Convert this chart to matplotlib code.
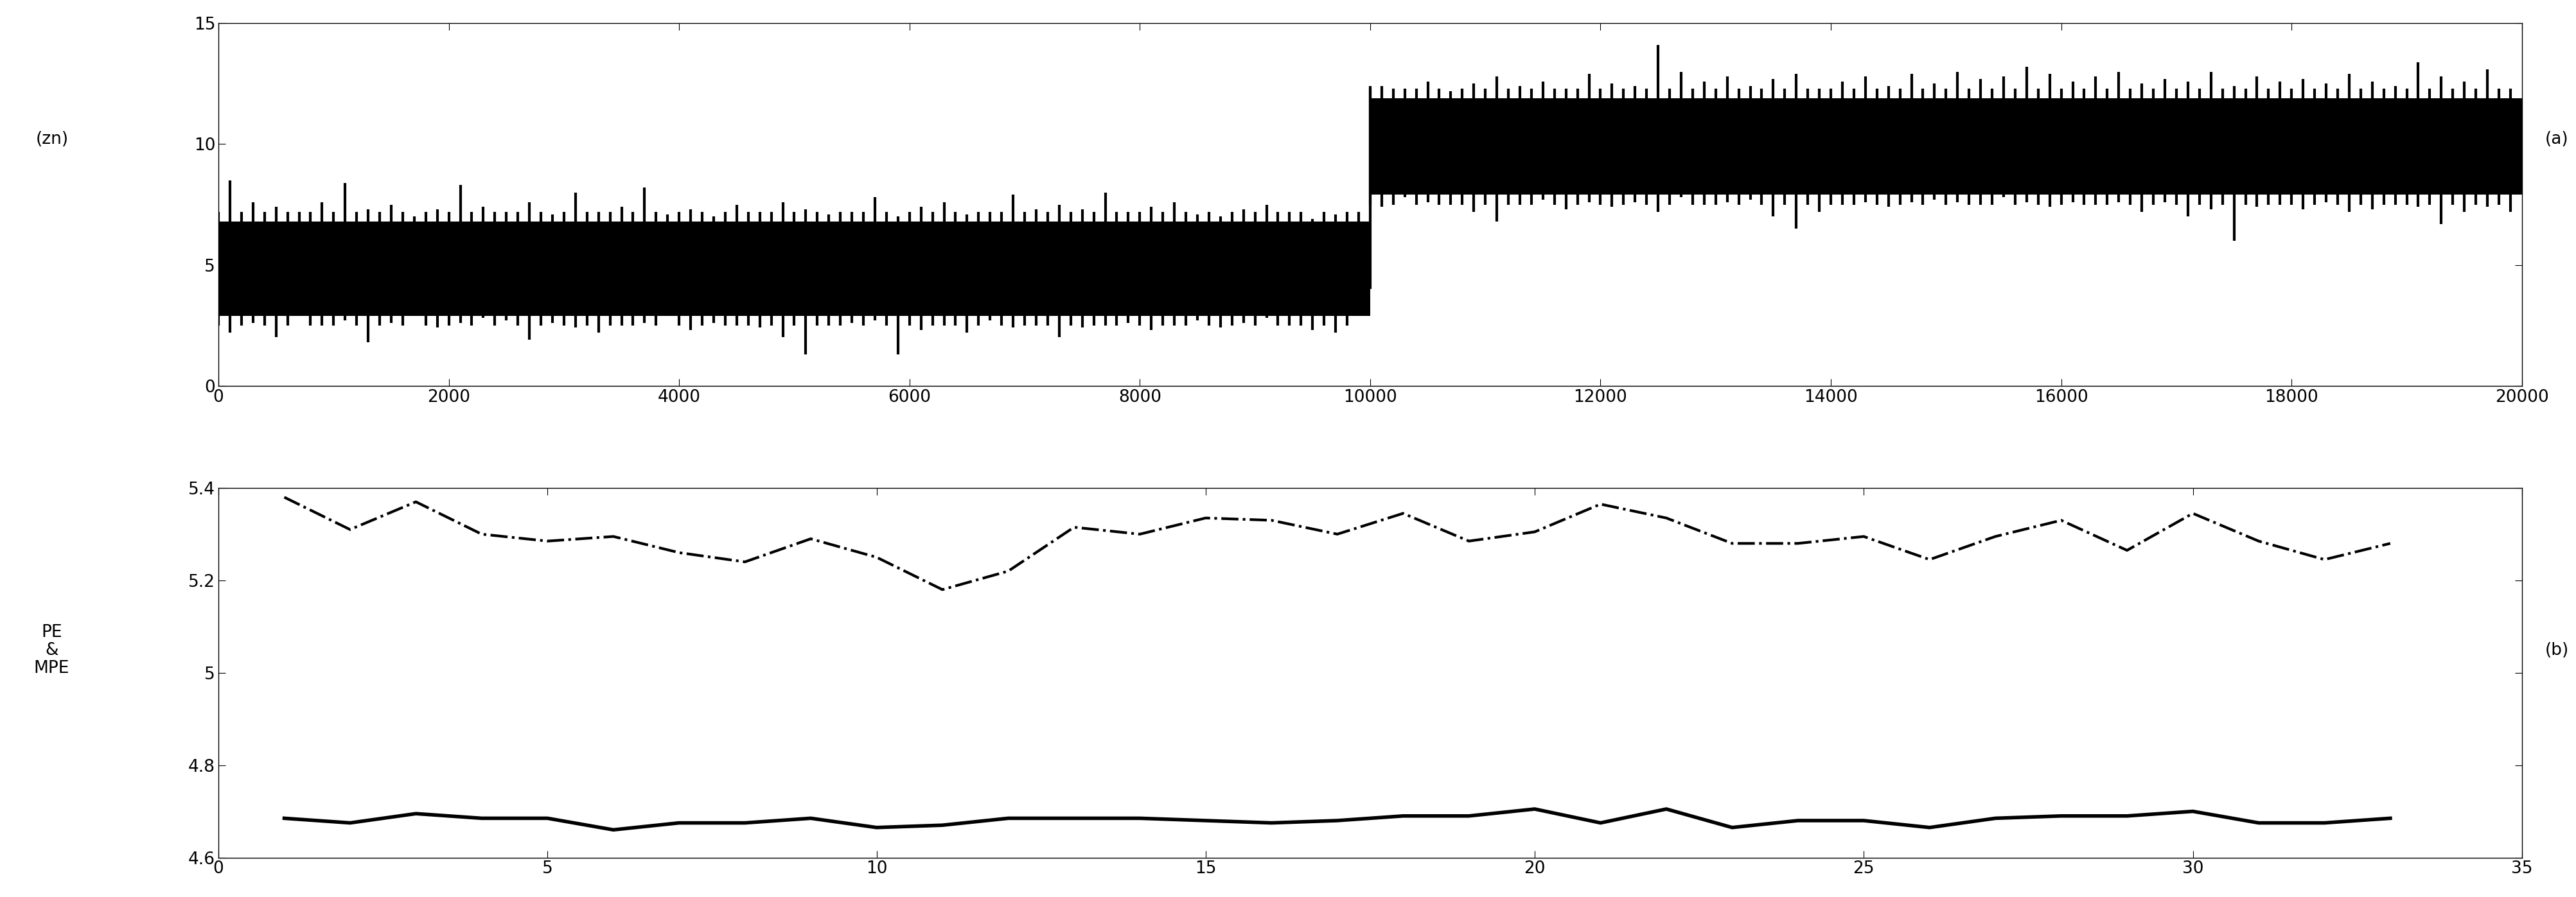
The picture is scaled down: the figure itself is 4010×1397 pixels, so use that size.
import numpy as np
import matplotlib
matplotlib.use("Agg")
import matplotlib.pyplot as plt

# Top panel envelope (per 200-sample bin)
hi_a = [8.5,7.6,7.4,7.2,7.6,8.4,7.3,7.5,7.0,7.3, 8.3,7.4,7.2,7.6,7.1,8.0,7.2,7.4,8.2,7.1,
        7.3,7.0,7.5,7.2,7.6,7.3,7.1,7.2,7.8,7.0, 7.4,7.6,7.1,7.2,7.9,7.3,7.5,7.3,8.0,7.2,
        7.4,7.6,7.1,7.0,7.3,7.5,7.2,6.9,7.1,7.2]
lo_a = [2.2,2.6,2.0,2.9,2.5,2.7,1.8,2.6,2.9,2.4, 2.6,2.8,2.7,1.9,2.6,2.4,2.2,2.5,2.6,2.9,
        2.3,2.6,2.5,2.4,2.0,1.3,2.5,2.6,2.7,1.3, 2.3,2.5,2.2,2.7,2.4,2.5,2.0,2.4,2.5,2.6,
        2.3,2.5,2.7,2.4,2.6,2.8,2.5,2.3,2.2,3.9]
hi_b = [12.4,12.3,12.6,12.2,12.5,12.8,12.4,12.6,12.3,12.9, 12.5,12.4,14.1,13.0,12.6,12.8,12.4,12.7,12.9,12.3,
        12.6,12.8,12.4,12.9,12.5,13.0,12.7,12.8,13.2,12.9, 12.6,12.8,13.0,12.5,12.7,12.6,13.0,12.4,12.8,12.6,
        12.7,12.5,12.9,12.6,12.4,13.4,12.8,12.6,13.1,12.3]
lo_b = [7.4,7.8,7.6,7.5,7.2,6.8,7.5,7.7,7.3,7.6, 7.4,7.6,7.2,7.8,7.5,7.6,7.7,7.0,6.5,7.2,
        7.5,7.6,7.4,7.6,7.7,7.6,7.5,7.8,7.6,7.4, 7.6,7.5,7.6,7.2,7.6,7.0,7.3,6.0,7.4,7.5,
        7.3,7.6,7.2,7.3,7.5,7.4,6.7,7.2,7.4,7.2]
bin_width = 200

# Bottom panel
k = list(range(1, 34))
mpe = [5.38,5.31,5.37,5.30,5.285,5.295,5.26,5.24,5.29,5.25,5.18,5.22,5.315,5.30,5.335,5.33,5.30,
       5.345,5.285,5.305,5.365,5.335,5.28,5.28,5.295,5.245,5.295,5.33,5.265,5.345,5.285,5.245,5.28]
pe = [4.685,4.675,4.695,4.685,4.685,4.66,4.675,4.675,4.685,4.665,4.67,4.685,4.685,4.685,4.68,4.675,
      4.68,4.69,4.69,4.705,4.675,4.705,4.665,4.68,4.68,4.665,4.685,4.69,4.69,4.70,4.675,4.675,4.685]

fs = 19
fig = plt.figure(figsize=(40.1, 13.97), dpi=100)
ax1 = fig.add_axes([0.0848, 0.570, 0.8942, 0.404])
ax2 = fig.add_axes([0.0848, 0.044, 0.8942, 0.412])

hi = np.array(hi_a + hi_b); lo = np.array(lo_a + lo_b)
xs = np.arange(len(hi)) * bin_width + bin_width / 2
# dense core band (typical range of the noise)
edges = np.arange(len(hi) + 1) * bin_width
core_hi = np.append(np.where(xs < 10000, 6.8, 11.9), 11.9)
core_lo = np.append(np.where(xs < 10000, 2.9, 7.9), 7.9)
ax1.fill_between(edges, core_lo, core_hi, color='black', step='post', lw=0)
# spikes: vertical strokes spanning each bin's extremes
ax1.vlines(xs, lo, hi, color='black', lw=3)
ax1.vlines(xs - bin_width/2, np.roll(lo, -1) * 0 + core_lo[:-1] - 0.4, core_hi[:-1] + 0.4, color='black', lw=3)
ax1.vlines([10000], 4.0, 12.4, color='black', lw=3)
ax1.set_xlim(0, 20000); ax1.set_ylim(0, 15)
ax1.set_xticks(range(0, 20001, 2000)); ax1.set_yticks([0, 5, 10, 15])

ax2.plot(k, mpe, color='black', lw=3, ls='-.')
ax2.plot(k, pe, color='black', lw=4)
ax2.set_xlim(0, 35); ax2.set_ylim(4.6, 5.4)
ax2.set_xticks(range(0, 36, 5)); ax2.set_yticks([4.6, 4.8, 5.0, 5.2, 5.4])
ax2.set_yticklabels(['4.6', '4.8', '5', '5.2', '5.4'])

for ax in (ax1, ax2):
    ax.tick_params(labelsize=fs, direction='in', length=8, right=True, top=True)
    for s in ax.spines.values():
        s.set_linewidth(1)

fig.text(0.014, 0.845, '(zn)', fontsize=fs, va='center')
fig.text(0.988, 0.845, '(a)', fontsize=fs, va='center')
fig.text(0.020, 0.275, 'PE\n&\nMPE', fontsize=fs, va='center', ha='center', linespacing=1.1)
fig.text(0.988, 0.275, '(b)', fontsize=fs, va='center')
fig.savefig('out.png', dpi=100, facecolor='white')
